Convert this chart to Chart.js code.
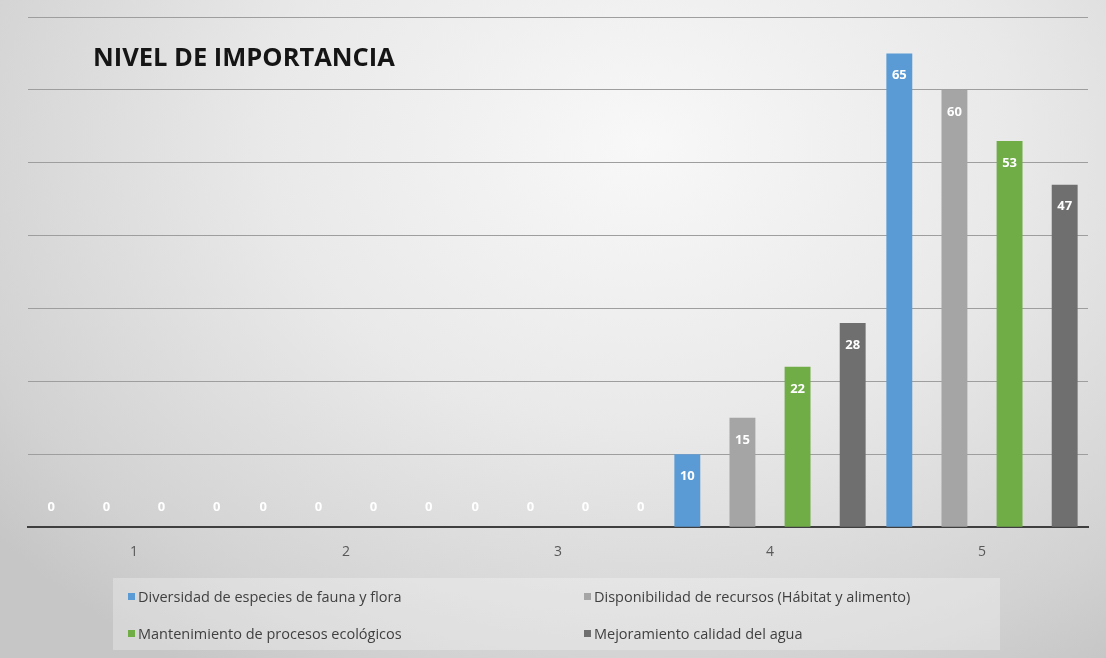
<!DOCTYPE html>
<html>
<head>
<meta charset="utf-8">
<script src="https://cdn.jsdelivr.net/npm/chart.js@4/dist/chart.umd.min.js"></script>
<style>
  html, body { margin: 0; padding: 0; }
  body {
    width: 1106px; height: 658px; overflow: hidden; position: relative;
    background: radial-gradient(ellipse 75% 95% at 58% 22%, #f8f8f8 0%, #e9e9e9 45%, #d2d2d2 85%, #c6c6c6 100%);
    font-family: "Open Sans", sans-serif;
  }
  #wrap { position: absolute; left: 0; top: 0; width: 1106px; height: 658px; }
  #title {
    position: absolute; left: 93px; top: 43px;
    font-size: 25.5px; line-height: 26px; font-weight: bold; color: #151515;
  }
  #legend {
    position: absolute; left: 113px; top: 578px; width: 887px; height: 72px;
    background: rgba(255,255,255,0.28);
    display: grid; grid-template-columns: 456px 420px; grid-auto-rows: 37px;
    padding-left: 15px; box-sizing: border-box;
  }
  .item { display: flex; align-items: center; font-size: 14.5px; color: #404040; }
  .box { width: 7px; height: 7px; margin-right: 3px; }
</style>
</head>
<body>
<div id="wrap"><canvas id="myChart" width="1106" height="658"></canvas></div>
<div id="title">NIVEL DE IMPORTANCIA</div>
<div id="legend"></div>
<script>
const categories = ['1', '2', '3', '4', '5'];
const seriesNames = [
    'Diversidad de especies de fauna y flora',
    'Disponibilidad de recursos (Hábitat y alimento)',
    'Mantenimiento de procesos ecológicos',
    'Mejoramiento calidad del agua'
];
const diversidad = [0, 0, 0, 10, 65];
const disponibilidad = [0, 0, 0, 15, 60];
const mantenimiento = [0, 0, 0, 22, 53];
const mejoramiento = [0, 0, 0, 28, 47];
const colors = ['#5b9bd5', '#a5a5a5', '#70ad47', '#6f6f6f'];

// draws the white value labels inside the bars
const valueLabels = {
    id: 'valueLabels',
    afterDatasetsDraw(chart) {
        const ctx = chart.ctx;
        ctx.save();
        ctx.font = 'bold 13px "Open Sans"';
        ctx.fillStyle = '#ffffff';
        ctx.textAlign = 'center';
        ctx.textBaseline = 'middle';
        chart.data.datasets.forEach((ds, i) => {
            chart.getDatasetMeta(i).data.forEach((bar, j) => {
                const v = ds.data[j];
                const y = v > 0 ? bar.y + 22 : bar.base - 20;
                ctx.fillText(String(v), bar.x, y);
            });
        });
        ctx.restore();
    }
};

const ctx = document.getElementById('myChart').getContext('2d');
const chart = new Chart(ctx, {
    type: 'bar',
    data: {
        labels: categories,
        datasets: [diversidad, disponibilidad, mantenimiento, mejoramiento].map((d, i) => ({
            label: seriesNames[i],
            data: d,
            backgroundColor: colors[i],
            categoryPercentage: 1.04,
            barPercentage: 0.47
        }))
    },
    options: {
        responsive: false,
        animation: false,
        layout: { padding: { left: 28, right: 18, top: 17, bottom: 90 } },
        plugins: {
            legend: { display: false },
            tooltip: { enabled: false },
            title: { display: false }
        },
        scales: {
            x: {
                grid: { display: false },
                border: { display: true, color: '#3f3f3f', width: 2 },
                ticks: { color: '#595959', font: { size: 14, family: 'Open Sans' }, padding: 8 }
            },
            y: {
                min: 0, max: 70,
                ticks: { display: false, stepSize: 10 },
                border: { display: false },
                grid: { color: '#9e9e9e', lineWidth: 1, drawTicks: false }
            }
        }
    },
    plugins: [valueLabels]
});

// html legend built from the chart's datasets
const legendEl = document.getElementById('legend');
chart.data.datasets.forEach(ds => {
    const item = document.createElement('div');
    item.className = 'item';
    const box = document.createElement('span');
    box.className = 'box';
    box.style.background = ds.backgroundColor;
    item.appendChild(box);
    item.appendChild(document.createTextNode(ds.label));
    legendEl.appendChild(item);
});
</script>
</body>
</html>
